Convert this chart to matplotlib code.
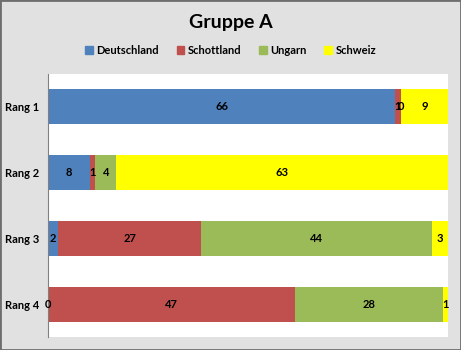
import numpy as np
import matplotlib.pyplot as plt
from matplotlib.patches import Patch

rangs = ['Rang 1', 'Rang 2', 'Rang 3', 'Rang 4']
teams = ['Deutschland', 'Schottland', 'Ungarn', 'Schweiz']
deutschland = [66, 8, 2, 0]
schottland = [1, 1, 27, 47]
ungarn = [0, 4, 44, 28]
schweiz = [9, 63, 3, 1]
colors = ['#4F81BD', '#C0504D', '#9BBB59', '#FFFF00']

plt.rcParams['font.family'] = ['Lato', 'DejaVu Sans']

fig = plt.figure(figsize=(4.61, 3.5), dpi=100, facecolor='#e1e1e1')
fig.patches.append(plt.Rectangle((0, 0), 1, 1, transform=fig.transFigure,
                                 fill=False, edgecolor='#6e6e6e', linewidth=2))
ax = fig.add_axes([0.104, 0.037, 0.868, 0.752])
ax.set_facecolor('white')

y = np.arange(len(rangs))
left = np.zeros(len(rangs))
for vals, c in zip([deutschland, schottland, ungarn, schweiz], colors):
    vals = np.array(vals)
    ax.barh(y, vals, left=left, color=c, height=0.53)
    for yi, l, v in zip(y, left, vals):
        ax.text(l + v / 2, yi, str(v), ha='center', va='center',
                fontsize=8, fontweight='bold', color='black')
    left += vals

ax.set_xlim(0, 76)
ax.set_ylim(3.5, -0.5)
ax.set_yticks(y)
ax.set_yticklabels(rangs, fontsize=8, fontweight='bold')
ax.tick_params(axis='y', length=0, pad=6)
ax.set_xticks([])
for s in ['top', 'right', 'bottom']:
    ax.spines[s].set_visible(False)
ax.spines['left'].set_color('#808080')

fig.text(0.5, 0.935, 'Gruppe A', ha='center', va='center', fontsize=14, fontweight='bold')
handles = [Patch(color=c, label=t) for c, t in zip(colors, teams)]
fig.legend(handles=handles, loc='center', bbox_to_anchor=(0.5, 0.855), ncol=4, frameon=False,
           handlelength=0.7, handleheight=0.7, handletextpad=0.3, columnspacing=1.6,
           prop={'weight': 'bold', 'size': 8})

fig.savefig('out.png', dpi=100, facecolor=fig.get_facecolor())
